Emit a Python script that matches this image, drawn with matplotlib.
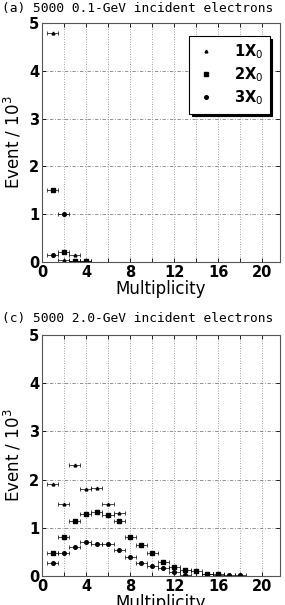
import numpy as np
import matplotlib.pyplot as plt
from matplotlib.lines import Line2D

# panel (a): 0.1 GeV
a_x1 = [1, 2, 3]
a_y1 = [4.8, 0.05, 0.15]
a_x2 = [1, 2, 3, 4]
a_y2 = [1.5, 0.2, 0.02, 0.02]
a_x3 = [1, 2, 3, 4]
a_y3 = [0.15, 1.0, 0.02, 0.01]

# panel (c): 2.0 GeV
c_x1 = [1, 2, 3, 4, 5, 6, 7]
c_y1 = [1.9, 1.5, 2.3, 1.8, 1.83, 1.5, 1.3]
c_x2 = [1, 2, 3, 4, 5, 6, 7, 8, 9, 10, 11, 12, 13, 14, 15, 16]
c_y2 = [0.47, 0.8, 1.15, 1.28, 1.32, 1.27, 1.15, 0.8, 0.65, 0.47, 0.28, 0.18, 0.12, 0.1, 0.05, 0.04]
c_x3 = [1, 2, 3, 4, 5, 6, 7, 8, 9, 10, 11, 12, 13, 15, 16, 17, 18]
c_y3 = [0.26, 0.47, 0.6, 0.7, 0.67, 0.67, 0.53, 0.4, 0.26, 0.2, 0.17, 0.08, 0.03, 0.04, 0.02, 0.02, 0.01]

labels = ['1X$_0$', '2X$_0$', '3X$_0$']
markers = ['^', 's', 'o']
msizes = [2.0, 3.4, 2.6]

fig = plt.figure(figsize=(2.85, 6.05), dpi=100)
ax_a = fig.add_axes([0.147, 0.567, 0.835, 0.395])
ax_c = fig.add_axes([0.147, 0.048, 0.835, 0.398])


def draw(ax, series, legend):
    for (x, y), m, ms in zip(series, markers, msizes):
        ax.errorbar(x, y, xerr=0.5, fmt=m, color='black', ms=ms,
                    elinewidth=0.5, capsize=1.5, capthick=0.5)
    ax.set_xlim(0, 21.6)
    ax.set_ylim(0, 5)
    ax.set_xticks(np.arange(0, 21, 4))
    ax.set_yticks(np.arange(0, 6, 1))
    ax.set_xticks(np.arange(2, 21, 4), minor=True)
    for xv in np.arange(2, 21, 2):
        ax.axvline(xv, color='gray', lw=0.6, ls=(0, (1, 2)), zorder=0)
    for yv in range(1, 5):
        ax.axhline(yv, color='gray', lw=0.6, ls=(0, (4, 2, 1, 2)), zorder=0)
    ax.tick_params(direction='in', length=3, width=0.6, top=True, right=True,
                   labelsize=10.5, pad=2)
    ax.tick_params(which='minor', direction='in', length=3, width=0.6, top=True)
    for lbl in ax.get_xticklabels() + ax.get_yticklabels():
        lbl.set_fontweight('bold')
    for sp in ax.spines.values():
        sp.set_color('#555555')
        sp.set_linewidth(0.8)
    ax.set_xlabel('Multiplicity', fontsize=12, labelpad=0)
    ax.set_ylabel('Event / 10$^3$', fontsize=12, labelpad=4)
    if legend:
        handles = [Line2D([], [], ls='none', marker=m, ms=ms, color='black')
                   for m, ms in zip(markers, msizes)]
        leg = ax.legend(handles, labels, loc='upper right',
                        bbox_to_anchor=(0.975, 0.965),
                        fancybox=False, shadow={'color': 'black', 'alpha': 1.0},
                        edgecolor='black', framealpha=1, fontsize=10.5,
                        handletextpad=1.2, borderpad=0.45, labelspacing=0.3,
                        handlelength=1.4, borderaxespad=0.3)
        leg.get_frame().set_linewidth(0.8)
        for t in leg.get_texts():
            t.set_fontweight('bold')


draw(ax_a, [(a_x1, a_y1), (a_x2, a_y2), (a_x3, a_y3)], True)
draw(ax_c, [(c_x1, c_y1), (c_x2, c_y2), (c_x3, c_y3)], False)

fig.text(0.008, 0.986, '(a) 5000 0.1-GeV incident electrons',
         family='DejaVu Sans Mono', fontsize=9.3, va='center', ha='left')
fig.text(0.008, 0.474, '(c) 5000 2.0-GeV incident electrons',
         family='DejaVu Sans Mono', fontsize=9.3, va='center', ha='left')

fig.savefig('out.png', dpi=100)
